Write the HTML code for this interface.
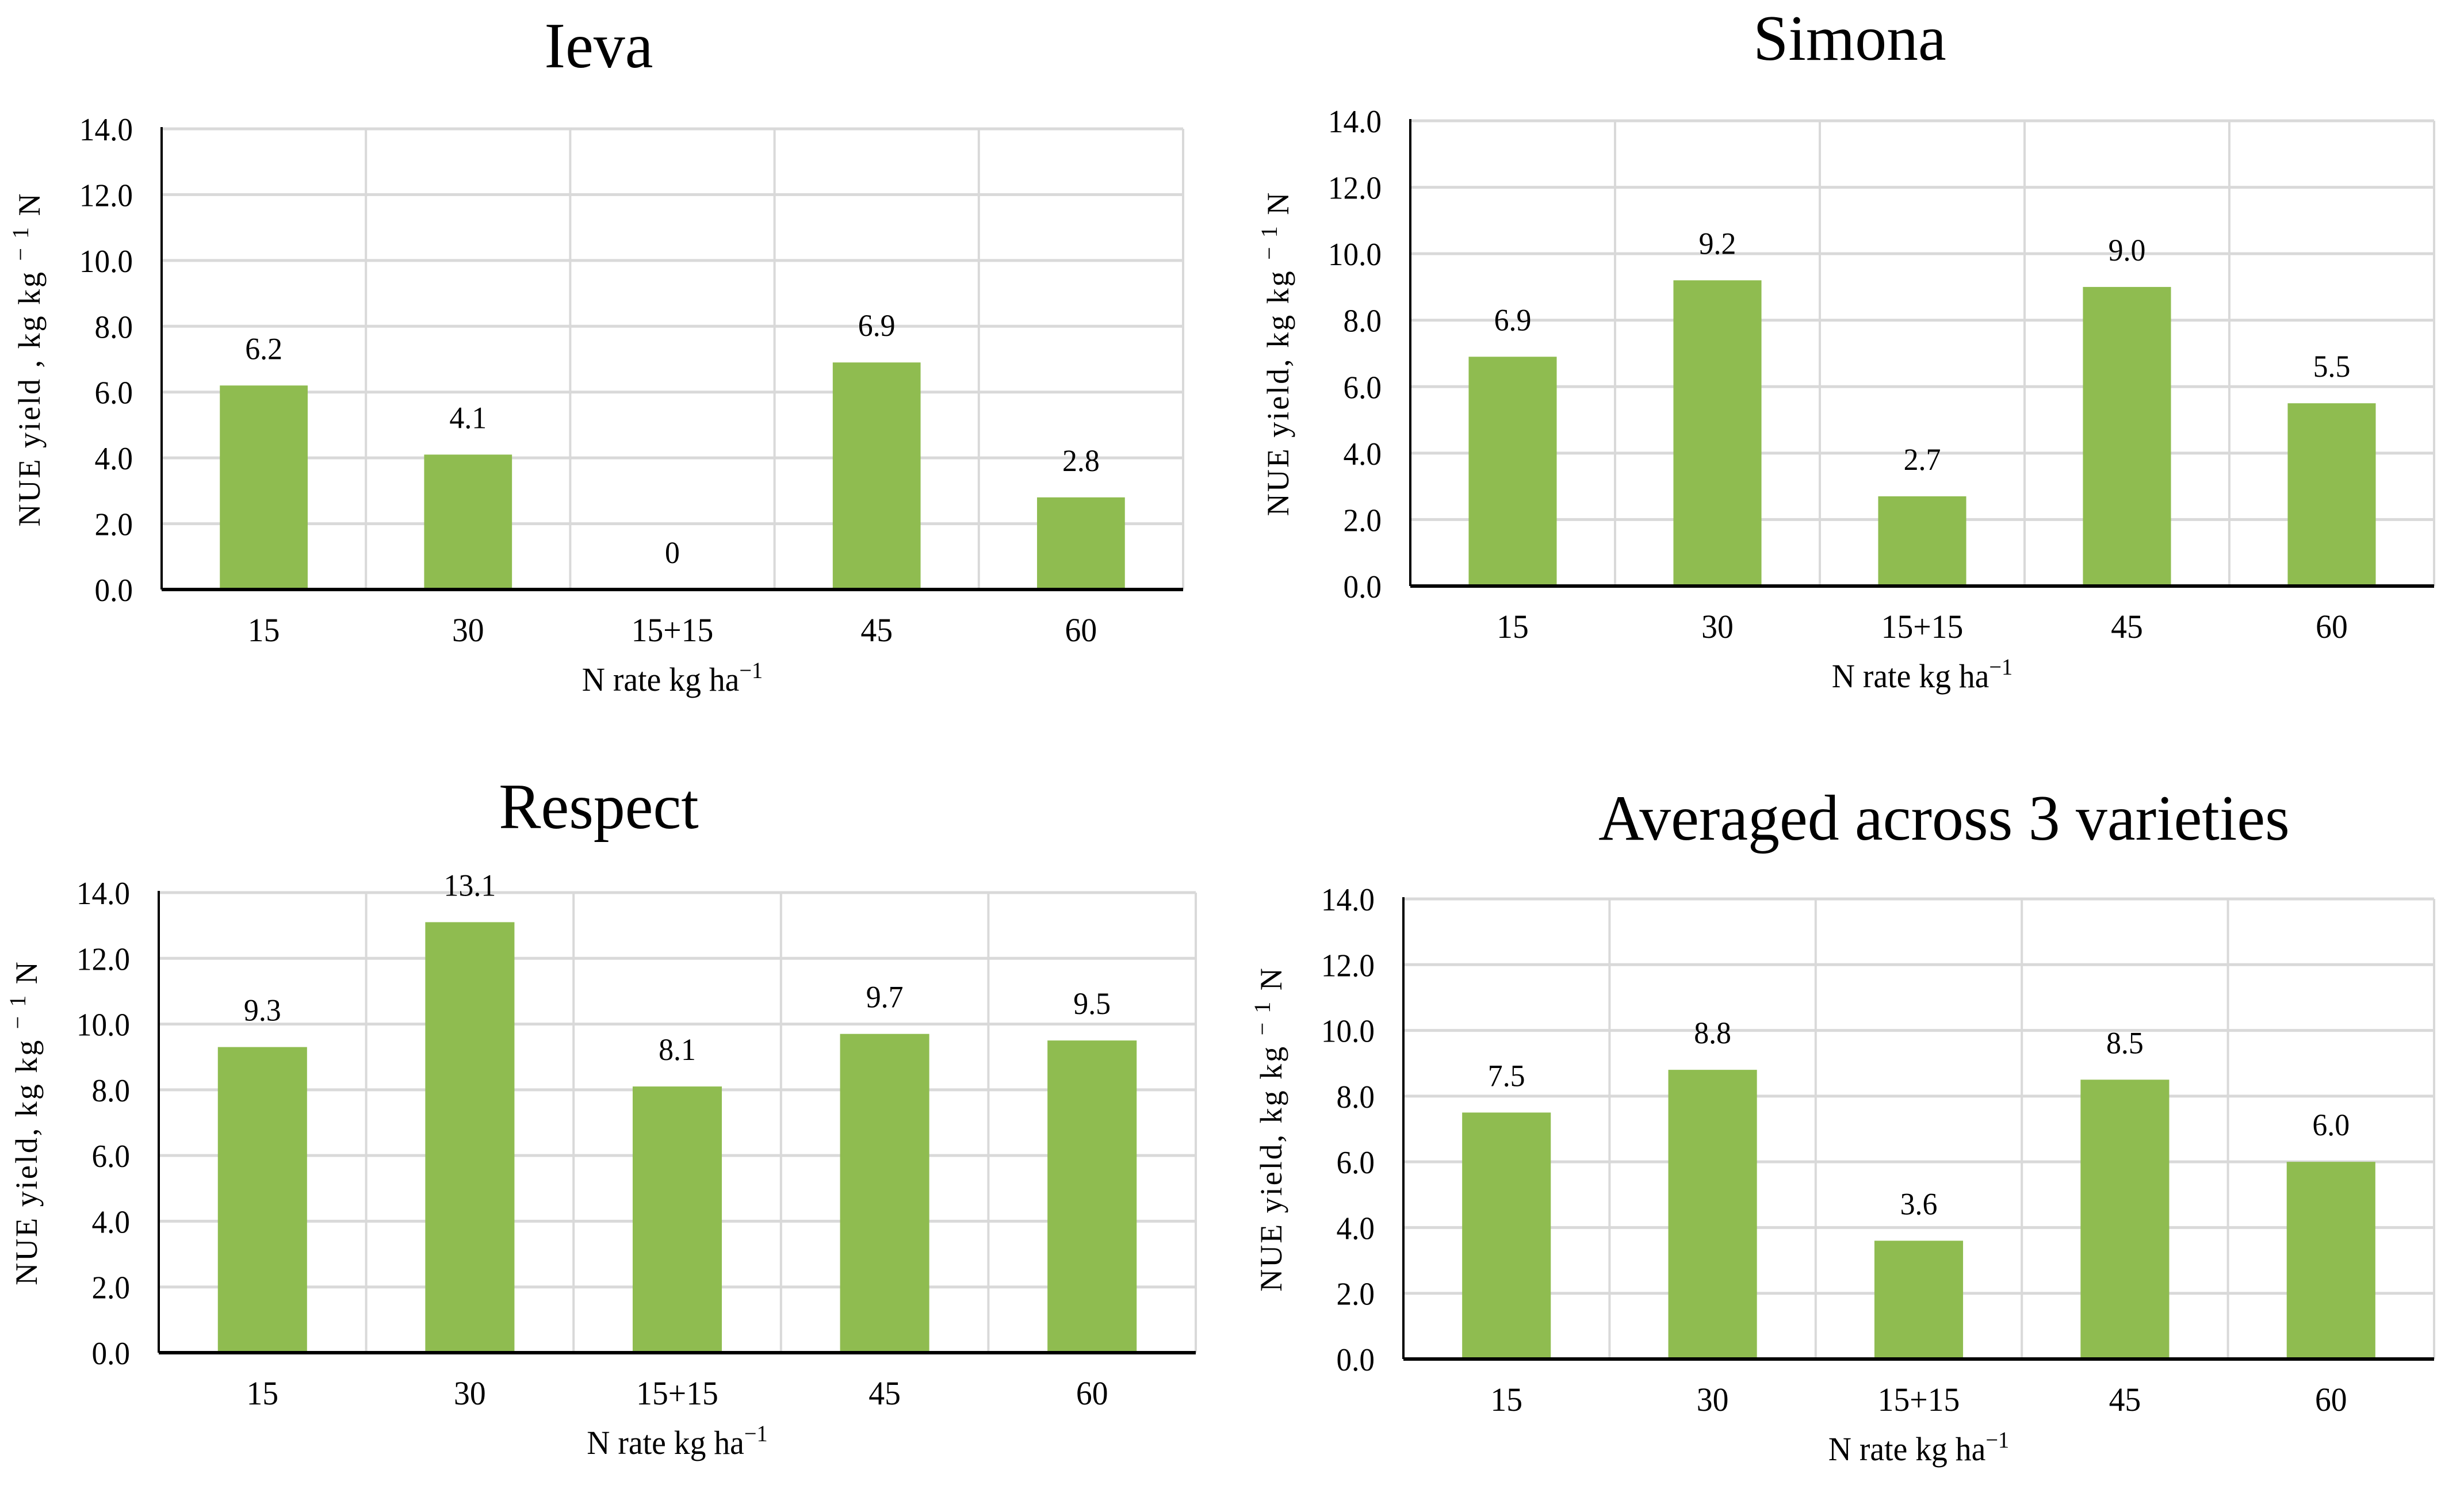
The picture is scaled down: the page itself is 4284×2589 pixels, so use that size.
<!DOCTYPE html>
<html><head><meta charset="utf-8">
<style>
html,body{margin:0;padding:0;background:#fff;}
svg{display:block;font-family:"Liberation Serif",serif;}
.sxe{transform-box:fill-box;transform-origin:right center;transform:scaleX(0.95);}
.sxc{transform-box:fill-box;transform-origin:center;transform:scaleX(0.96);}
.sxt{transform-box:fill-box;transform-origin:center;transform:scaleX(0.98);}
</style></head>
<body>
<svg id="chart" width="4284" height="2589" viewBox="0 0 4284 2589" xmlns="http://www.w3.org/2000/svg"></svg>
<script>
const categories = ["15","30","15+15","45","60"];
const titles = ["Ieva","Simona","Respect","Averaged across 3 varieties"];
const ievaValues = [6.2,4.1,0,6.9,2.8];
const simonaValues = [6.9,9.2,2.7,9.0,5.5];
const respectValues = [9.3,13.1,8.1,9.7,9.5];
const averagedValues = [7.5,8.8,3.6,8.5,6.0];
const ievaLabels = ["6.2","4.1","0","6.9","2.8"];
const simonaLabels = ["6.9","9.2","2.7","9.0","5.5"];
const respectLabels = ["9.3","13.1","8.1","9.7","9.5"];
const averagedLabels = ["7.5","8.8","3.6","8.5","6.0"];
const yTicks = [0,2,4,6,8,10,12,14];
const yTickLabels = ["0.0","2.0","4.0","6.0","8.0","10.0","12.0","14.0"];
const yMax = 14;

const panels = [
  {name:"ieva", values:ievaValues, labels:ievaLabels, title:titles[0], L:281,R:2057,T:224,B:1025, tx:1041, ty:117, yt:"NUE  yield , kg kg "},
  {name:"simona", values:simonaValues, labels:simonaLabels, title:titles[1], L:2452,R:4232,T:210,B:1019, tx:3216, ty:104, yt:"NUE  yield, kg kg "},
  {name:"respect", values:respectValues, labels:respectLabels, title:titles[2], L:276,R:2079,T:1552,B:2352, tx:1041, ty:1440, yt:"NUE  yield, kg kg "},
  {name:"averaged", values:averagedValues, labels:averagedLabels, title:titles[3], L:2440,R:4232,T:1563,B:2363, tx:3380, ty:1460, yt:"NUE  yield, kg kg "}
];
const NS="http://www.w3.org/2000/svg";
const svg=document.getElementById('chart');
function mk(tag,attrs,parent){const e=document.createElementNS(NS,tag);for(const k in attrs)e.setAttribute(k,attrs[k]);(parent||svg).appendChild(e);return e;}

panels.forEach(p=>{
  const g=mk('g',{});
  
  
  const yScale=v=>p.B-(v/yMax)*(p.B-p.T);
  const bw=(p.R-p.L)/categories.length;
  const xBand=i=>p.L+i*bw;
  yTicks.forEach((t,i)=>{
    if(t===0)return;
    const l=mk('line',{x1:p.L,x2:p.R,y1:yScale(t),y2:yScale(t),stroke:'#d9d9d9','stroke-width':5},g);
    
    
  });
  for(let i=1;i<=categories.length;i++){
    const l=mk('line',{x1:xBand(i),x2:xBand(i),y1:p.T,y2:p.B,stroke:'#d9d9d9','stroke-width':4},g);
    
    
  }
  p.values.forEach((v,i)=>{
    const cx=xBand(i)+bw/2, w=bw*0.43;
    const r=mk('rect',{x:cx-w/2,y:yScale(v),width:w,height:p.B-yScale(v),fill:'#8fbc50'},g);
    
    
    const t=mk('text',{x:cx,y:yScale(v)-46,'text-anchor':'middle','font-size':54,fill:'#000',class:'sxc'},g);
    t.textContent=p.labels[i];
    
    
    const c=mk('text',{x:cx,y:p.B+90,'text-anchor':'middle','font-size':58,fill:'#000',class:'sxc'},g);
    c.textContent=categories[i];
    
    
  });
  const ya=mk('line',{x1:p.L,x2:p.L,y1:p.T-3,y2:p.B,stroke:'#000','stroke-width':4},g);
  
  
  const xa=mk('line',{x1:p.L,x2:p.R,y1:p.B,y2:p.B,stroke:'#000','stroke-width':6},g);
  
  
  yTicks.forEach((t,i)=>{
    const tl=mk('text',{x:p.L-50,y:yScale(t)+20,'text-anchor':'end','font-size':56,fill:'#000',class:'sxe'},g);
    tl.textContent=yTickLabels[i];
    
    
  });
  const tt=mk('text',{x:p.tx,y:p.ty,'text-anchor':'middle','font-size':112,fill:'#000',class:'sxt'},g);
  tt.textContent=p.title;
  
  
  const xt=mk('text',{x:(p.L+p.R)/2,y:p.B+176,'text-anchor':'middle','font-size':58,fill:'#000',class:'sxc'},g);
  xt.textContent='N rate kg ha';
  const sup=mk('tspan',{'font-size':40,dy:-22},xt);
  sup.textContent='−1';
  
  
  const cy=(p.T+p.B)/2, cxp=p.L-212;
  const yt=mk('text',{x:cxp,y:cy,'text-anchor':'middle','font-size':54,fill:'#000','letter-spacing':3,transform:`rotate(-90 ${cxp} ${cy})`},g);
  yt.textContent=p.yt;
  const s2=mk('tspan',{'font-size':40,dy:-20},yt);
  s2.textContent='− 1';
  const s3=mk('tspan',{dy:20},yt);
  s3.textContent=' N';
  
  
});
</script>
</body></html>
